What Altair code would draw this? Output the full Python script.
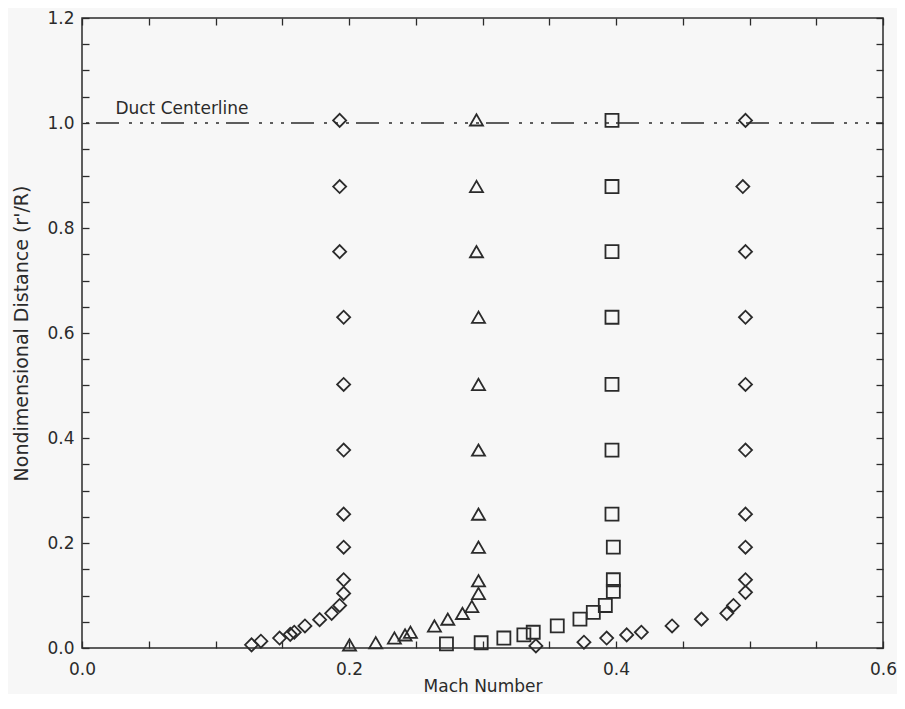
import altair as alt
import pandas as pd

# ---------------- data ----------------
series_names = ["M0.2", "M0.3", "M0.4", "M0.5"]
series_shapes = ["diamond", "triangle-up", "square", "diamond"]

mach_1 = [0.127, 0.134, 0.148, 0.156, 0.159, 0.167, 0.178, 0.187, 0.193, 0.196,
          0.196, 0.196, 0.196, 0.196, 0.196, 0.196, 0.193, 0.193, 0.193]
r_1 = [0.006, 0.013, 0.019, 0.026, 0.030, 0.042, 0.054, 0.066, 0.081, 0.104,
       0.130, 0.192, 0.255, 0.377, 0.502, 0.630, 0.755, 0.879, 1.005]

mach_2 = [0.2004, 0.220, 0.234, 0.242, 0.246, 0.264, 0.274, 0.285, 0.292, 0.297,
          0.297, 0.297, 0.297, 0.297, 0.297, 0.297, 0.2955, 0.2955, 0.2955]
r_2 = [0.006, 0.010, 0.019, 0.025, 0.030, 0.042, 0.055, 0.066, 0.079, 0.104,
       0.128, 0.192, 0.255, 0.377, 0.502, 0.630, 0.755, 0.879, 1.006]

mach_3 = [0.273, 0.299, 0.316, 0.331, 0.338, 0.356, 0.373, 0.383, 0.392, 0.398,
          0.398, 0.398, 0.397, 0.397, 0.397, 0.397, 0.397, 0.397, 0.397]
r_3 = [0.008, 0.010, 0.019, 0.025, 0.030, 0.042, 0.055, 0.068, 0.081, 0.108,
       0.130, 0.192, 0.255, 0.377, 0.502, 0.630, 0.755, 0.879, 1.005]

mach_4 = [0.340, 0.376, 0.393, 0.408, 0.419, 0.442, 0.464, 0.483, 0.488, 0.497,
          0.497, 0.497, 0.497, 0.497, 0.497, 0.497, 0.497, 0.495, 0.497]
r_4 = [0.004, 0.011, 0.019, 0.025, 0.030, 0.042, 0.055, 0.066, 0.081, 0.106,
       0.130, 0.192, 0.255, 0.377, 0.502, 0.630, 0.755, 0.879, 1.005]

centerline_x = [0.0]
centerline_x2 = [0.6]
centerline_y = [1.0]

note_text = ["Duct Centerline"]
note_x = [0.025]
note_y = [1.018]

x_tick_values = [round(i * 0.05, 2) for i in range(13)]
y_tick_values = [round(i * 0.05, 2) for i in range(25)]
x_label_values = [0.0, 0.2, 0.4, 0.6]
y_label_values = [0.0, 0.2, 0.4, 0.6, 0.8, 1.0, 1.2]

# ---------------- tables ----------------
rows = []
for name, ms, rs in zip(series_names, [mach_1, mach_2, mach_3, mach_4], [r_1, r_2, r_3, r_4]):
    for m, r in zip(ms, rs):
        rows.append({"series": name, "mach": m, "r": r})
points_df = pd.DataFrame(rows)
line_df = pd.DataFrame({"x": centerline_x, "x2": centerline_x2, "y": centerline_y})
note_df = pd.DataFrame({"text": note_text, "x": note_x, "y": note_y})

# ---------------- style ----------------
W, H = 801, 630
ink = "#2b2b2b"
font = "DejaVu Sans"
bg = "#f7f7f7"

xscale = alt.Scale(domain=[0, 0.6], nice=False, zero=False)
yscale = alt.Scale(domain=[0, 1.2], nice=False, zero=False)


def tick_axis(orient, values, offset):
    return alt.Axis(orient=orient, offset=offset, values=values, labels=False,
                    ticks=True, tickSize=7, tickWidth=1.3, tickColor=ink,
                    domain=False, grid=False, title="")


x_label_axis = alt.Axis(orient="bottom", values=x_label_values, format=".1f",
                        ticks=False, tickSize=0, domain=False, grid=False,
                        labelFlush=False, labelOverlap=False,
                        labelPadding=13, labelFontSize=17, labelFont=font,
                        labelColor=ink, title="Mach Number", titleFontSize=17,
                        titleFont=font, titleFontWeight="normal", titleColor=ink,
                        titlePadding=1)
y_label_axis = alt.Axis(orient="left", values=y_label_values, format=".1f",
                        ticks=False, tickSize=0, domain=False, grid=False,
                        labelFlush=False, labelOverlap=False,
                        labelPadding=8, labelFontSize=17, labelFont=font,
                        labelColor=ink, title="Nondimensional Distance (r'/R)",
                        titleFontSize=19, titleFont=font, titleFontWeight="normal",
                        titleColor=ink, titlePadding=15)

points = alt.Chart(points_df).mark_point(filled=False, strokeWidth=1.8, opacity=1).encode(
    x=alt.X("mach:Q", scale=xscale, axis=x_label_axis),
    y=alt.Y("r:Q", scale=yscale, axis=y_label_axis),
    shape=alt.Shape("series:N", scale=alt.Scale(domain=series_names, range=series_shapes), legend=None),
    color=alt.value(ink),
    size=alt.value(170),
)

centerline = alt.Chart(line_df).mark_rule(
    color=ink, strokeWidth=1.5, strokeDash=[23, 10, 3, 8, 3, 8, 3, 7], strokeDashOffset=51
).encode(
    x=alt.X("x:Q", scale=xscale, axis=tick_axis("top", x_tick_values, -H)),
    x2="x2:Q",
    y=alt.Y("y:Q", scale=yscale, axis=tick_axis("right", y_tick_values, -W)),
)

note = alt.Chart(note_df).mark_text(
    align="left", baseline="alphabetic", font=font, fontSize=17, color=ink
).encode(
    x=alt.X("x:Q", scale=xscale, axis=tick_axis("bottom", x_tick_values, -H)),
    y=alt.Y("y:Q", scale=yscale, axis=tick_axis("left", y_tick_values, -W)),
    text="text:N",
)

chart = alt.layer(points, centerline, note).resolve_axis(
    x="independent", y="independent"
).properties(
    width=W, height=H,
    autosize=alt.AutoSizeParams(type="none"),
    padding={"left": 74, "top": 10, "right": 14, "bottom": 46},
    background=bg,
).configure_view(stroke=ink, strokeWidth=1.5)

chart.save("out.html", embed_options={"renderer": "svg", "actions": False})
